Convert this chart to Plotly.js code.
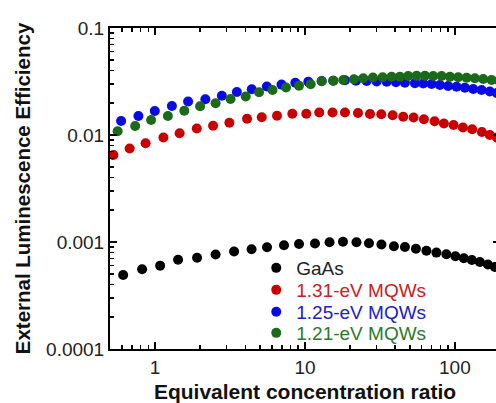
<!DOCTYPE html>
<html>
<head>
<meta charset="utf-8">
<script src="https://cdn.plot.ly/plotly-3.0.1.min.js"></script>
<style>
html,body{margin:0;padding:0;overflow:hidden;background:#fff;}
#chart{width:500px;height:403px;}
</style>
</head>
<body>
<div id="chart"></div>
<script>
// Series names
const seriesNames = ["GaAs", "1.31-eV MQWs", "1.25-eV MQWs", "1.21-eV MQWs"];

// GaAs (black)
const gaasX = [0.612,0.819,1.080,1.423,1.905,2.532,3.363,4.400,5.580,7.244,9.12,11.66,14.57,17.92,22.05,26.72,32.36,39.21,46.42,54.95,64.57,75.27,87.77,100.8,114.8,129.8,146.8,166.0,184.8];
const gaasY = [4.91e-4,5.56e-4,6.01e-4,6.83e-4,7.13e-4,7.64e-4,8.15e-4,8.56e-4,8.92e-4,9.33e-4,9.58e-4,9.68e-4,9.96e-4,1.006e-3,9.96e-4,9.74e-4,9.48e-4,9.12e-4,8.98e-4,8.64e-4,8.28e-4,7.96e-4,7.67e-4,7.35e-4,7.04e-4,6.79e-4,6.50e-4,6.16e-4,5.84e-4];

// 1.31-eV MQWs (red)
const mqw131X = [0.527,0.676,0.864,1.136,1.457,1.897,2.436,3.129,4.106,5.145,6.507,8.229,10.20,12.45,15.26,18.48,22.57,27.13,32.27,38.43,45.22,53.05,62.14,73.20,84.48,98.0,113.1,130.4,151.4,171.1,190.5];
const mqw131Y = [6.50e-3,7.48e-3,8.36e-3,9.47e-3,1.037e-2,1.150e-2,1.221e-2,1.303e-2,1.420e-2,1.464e-2,1.512e-2,1.582e-2,1.582e-2,1.623e-2,1.623e-2,1.623e-2,1.606e-2,1.572e-2,1.565e-2,1.528e-2,1.483e-2,1.457e-2,1.402e-2,1.346e-2,1.283e-2,1.240e-2,1.175e-2,1.133e-2,1.067e-2,1.000e-2,9.47e-3];

// 1.25-eV MQWs (blue)
const mqw125X = [0.593,0.774,0.995,1.294,1.660,2.164,2.788,3.511,4.413,5.563,6.971,8.618,10.52,12.92,15.44,18.48,21.88,25.78,30.06,35.05,40.44,46.42,54.12,61.47,69.94,79.43,90.22,102.6,116.6,132.4,150.7,171.1,190.5];
const mqw125Y = [1.351e-2,1.505e-2,1.676e-2,1.866e-2,2.056e-2,2.161e-2,2.325e-2,2.522e-2,2.673e-2,2.839e-2,2.958e-2,3.075e-2,3.148e-2,3.196e-2,3.217e-2,3.251e-2,3.217e-2,3.196e-2,3.162e-2,3.148e-2,3.108e-2,3.081e-2,3.042e-2,3.029e-2,2.996e-2,2.933e-2,2.871e-2,2.826e-2,2.767e-2,2.690e-2,2.633e-2,2.549e-2,2.469e-2];

// 1.21-eV MQWs (green)
const mqw121X = [0.562,0.736,0.940,1.217,1.566,1.995,2.532,3.187,4.024,4.936,6.072,7.470,9.120,10.91,12.92,15.44,18.00,21.21,24.47,28.40,32.96,37.84,42.99,48.83,55.55,63.10,71.67,81.52,92.63,105.2,119.7,135.9,154.5,175.7,196.6];
const mqw121Y = [1.085e-2,1.214e-2,1.380e-2,1.505e-2,1.687e-2,1.854e-2,1.978e-2,2.170e-2,2.290e-2,2.512e-2,2.633e-2,2.779e-2,2.883e-2,2.984e-2,3.176e-2,3.217e-2,3.266e-2,3.323e-2,3.388e-2,3.447e-2,3.462e-2,3.507e-2,3.507e-2,3.560e-2,3.583e-2,3.583e-2,3.560e-2,3.560e-2,3.507e-2,3.462e-2,3.432e-2,3.388e-2,3.337e-2,3.266e-2,3.231e-2];

// Tick labels
const xTickVals = [1, 10, 100];
const xTickText = ["1", "10", "100"];
const yTickVals = [0.0001, 0.001, 0.01, 0.1];
const yTickText = ["0.0001", "0.001", "0.01", "0.1"];

const markerColors = ["#000000", "#c80000", "#0a0ae6", "#1a6a1a"];
const legendTextColors = ["#222222", "#cc2020", "#2020c8", "#2a7a2a"];
const legendIds = ["legend", "legend2", "legend3", "legend4"];
const legendY = [0.2523, 0.1838, 0.1153, 0.0498];

const xs = [gaasX, mqw131X, mqw125X, mqw121X];
const ys = [gaasY, mqw131Y, mqw125Y, mqw121Y];

const traces = seriesNames.map((n, i) => ({
  type: "scatter",
  mode: "markers",
  x: xs[i],
  y: ys[i],
  legend: legendIds[i],
  name: '<span style="color:' + legendTextColors[i] + '">' + n + '</span>',
  marker: {color: markerColors[i], size: 10, line: {width: 0}}
}));

const minorX = [0.6,0.7,0.8,0.9,2,3,4,5,6,7,8,9,20,30,40,50,60,70,80,90,200];
const minorY = [];
[1e-4,1e-3,1e-2].forEach(d => { for (let k = 2; k <= 9; k++) minorY.push(k*d); });

const FONT = "Liberation Sans, Arial, sans-serif";
const xRange = [Math.log10(0.5), Math.log10(200)];

const layout = {
  width: 500,
  height: 403,
  margin: {l: 110, r: 0, t: 28, b: 54},
  paper_bgcolor: "#ffffff",
  plot_bgcolor: "#ffffff",
  font: {family: FONT, size: 19, color: "#222222"},
  showlegend: true,
  xaxis: {
    type: "log",
    range: xRange,
    tickmode: "array",
    tickvals: xTickVals,
    ticktext: xTickText,
    ticks: "inside",
    ticklen: 7,
    tickwidth: 1.5,
    tickcolor: "#000",
    showline: true,
    linecolor: "#000",
    linewidth: 2,
    mirror: "allticks",
    showgrid: false,
    zeroline: false,
    minor: {tickmode: "array", tickvals: minorX, ticks: "inside", ticklen: 4, tickcolor: "#000"},
    tickfont: {size: 19, color: "#222"},
    title: {text: "Equivalent concentration ratio", font: {size: 21, color: "#111", family: FONT, weight: "bold"}, standoff: 18}
  },
  yaxis: {
    type: "log",
    range: [-4, -1],
    tickmode: "array",
    tickvals: yTickVals,
    ticktext: yTickText,
    ticks: "inside",
    ticklen: 7,
    tickwidth: 1.5,
    tickcolor: "#000",
    showline: true,
    linecolor: "#000",
    linewidth: 2,
    mirror: "allticks",
    showgrid: false,
    zeroline: false,
    minor: {tickmode: "array", tickvals: minorY, ticks: "inside", ticklen: 4, tickcolor: "#000"},
    tickfont: {size: 19, color: "#222"},
    title: {text: "External Luminescence Efficiency", font: {size: 20.5, color: "#111", family: FONT, weight: "bold"}, standoff: 10}
  }
};

legendIds.forEach((id, i) => {
  layout[id] = {
    x: 0.375, y: legendY[i], xanchor: "left", yanchor: "middle",
    bgcolor: "rgba(0,0,0,0)",
    font: {family: FONT, size: 19},
    itemwidth: 30
  };
});

Plotly.newPlot("chart", traces, layout, {displayModeBar: false, staticPlot: true});
</script>
</body>
</html>
